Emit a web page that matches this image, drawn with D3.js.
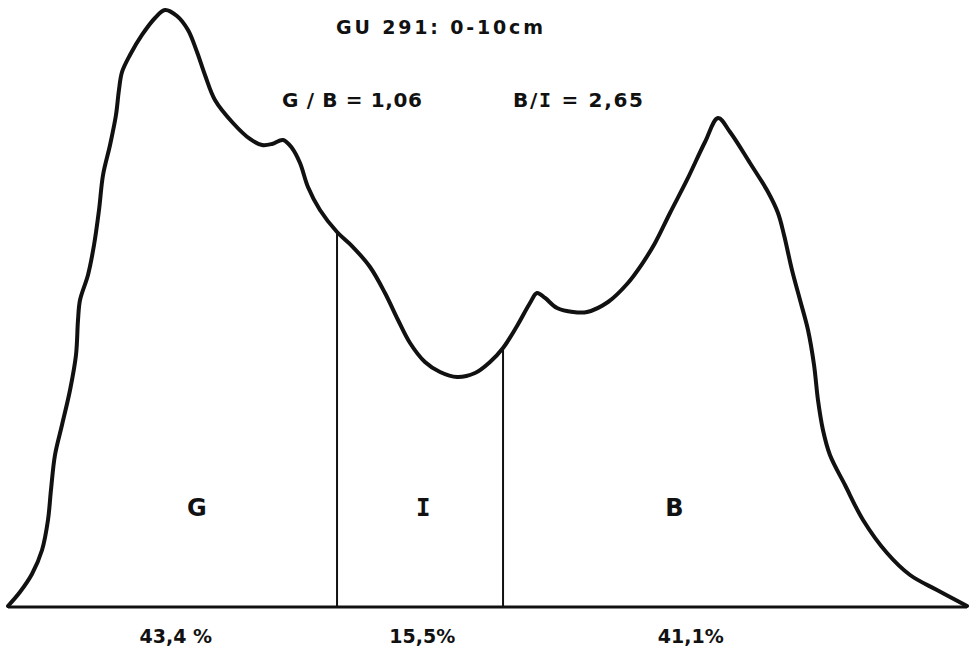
<!DOCTYPE html>
<html>
<head>
<meta charset="utf-8">
<script src="https://cdn.jsdelivr.net/npm/d3@7"></script>
<style>
  html, body { margin: 0; padding: 0; background: #fff; }
  svg { display: block; }
  text { font-family: "DejaVu Sans", sans-serif; font-weight: bold; fill: #111; }
  .serifI { font-family: "DejaVu Sans Mono", monospace; }
</style>
</head>
<body>
<svg id="chart" width="969" height="653"></svg>
<script>
// densitogram: distance along strip (0-100) vs. density (0-100, peak = 100)
var distance = [0, 1.25, 2.50, 3.55, 4.17, 4.48, 4.90, 5.63, 6.47, 7.09, 7.30, 7.51, 8.34, 8.97, 9.49, 9.91, 10.64, 11.26,
  11.57, 11.89, 12.72, 13.97, 15.33, 16.37, 17.62, 18.77, 19.71, 20.54, 21.58, 23.46, 25.23, 26.49, 27.53, 28.68, 29.61,
  30.45, 31.28, 32.53, 34.31, 35.87, 37.75, 39.31, 40.67, 41.92, 43.48, 45.05, 46.82, 48.70, 50.26, 51.62, 53.08, 54.43,
  55.16, 56.00, 57.25, 58.92, 60.38, 62.57, 64.55, 66.11, 67.47, 69.03, 70.80, 72.68, 74.04, 75.29, 77.37, 79.25, 80.29,
  80.92, 81.75, 82.59, 83.42, 84.05, 84.46, 84.98, 85.71, 87.28, 89.16, 91.66, 94.06, 96.87, 100];
var density = [0, 2.35, 5.37, 9.40, 14.43, 19.46, 25.34, 30.37, 36.24, 42.11, 47.99, 51.34, 55.54, 60.57, 66.44, 72.32, 77.35, 82.38,
  86.58, 89.60, 92.45, 95.81, 98.66, 100, 98.99, 96.64, 92.95, 89.09, 84.90, 81.04, 78.36, 77.35, 77.52, 78.19, 76.85,
  74.33, 70.30, 66.44, 62.75, 60.40, 56.88, 52.52, 47.99, 44.13, 40.94, 39.26, 38.42, 39.09, 40.94, 43.29, 46.98, 50.84,
  52.52, 51.68, 50.00, 49.33, 49.33, 51.01, 54.03, 57.38, 60.91, 65.94, 71.48, 77.85, 81.88, 79.53, 74.33, 69.46, 65.94,
  62.25, 56.38, 51.34, 46.31, 40.44, 34.56, 29.53, 25.34, 20.30, 14.43, 8.89, 5.20, 2.68, 0];

// fractions G | I | B and their limits
var fractions = ["G", "I", "B"];
var fractionCenters = [19.7, 43.3, 69.5];
var percentLabels = ["43,4 %", "15,5%", "41,1%"];
var percentCenters = [17.5, 43.2, 71.2];
var limits = [34.31, 51.62];

var title = "GU 291:  0-10cm";

var width = 969, height = 653;
var svg = d3.select("#chart");

var x = d3.scaleLinear().domain([0, 100]).range([8, 967]);
var y = d3.scaleLinear().domain([0, 100]).range([606, 10]);

var pts = distance.map((d, i) => [d, density[i]]);

// density at a given distance (linear between traced points)
function densityAt(v) {
  for (var i = 1; i < pts.length; i++) {
    if (pts[i][0] >= v && pts[i - 1][0] <= v) {
      var t = (v - pts[i - 1][0]) / (pts[i][0] - pts[i - 1][0]);
      return pts[i - 1][1] + t * (pts[i][1] - pts[i - 1][1]);
    }
  }
  return 0;
}

// baseline
svg.append("line")
  .attr("x1", x(0)).attr("x2", x(100))
  .attr("y1", y(0) + 1).attr("y2", y(0) + 1)
  .attr("stroke", "#111").attr("stroke-width", 3);

// fraction limits
svg.selectAll("line.limit")
  .data(limits)
  .join("line")
    .attr("class", "limit")
    .attr("x1", d => x(d)).attr("x2", d => x(d))
    .attr("y1", d => y(densityAt(d)))
    .attr("y2", y(0) + 1)
    .attr("stroke", "#111").attr("stroke-width", 2);

// curve
var line = d3.line()
  .x(d => x(d[0]))
  .y(d => y(d[1]))
  .curve(d3.curveCatmullRom.alpha(0.5));

svg.append("path")
  .attr("d", line(pts))
  .attr("fill", "none")
  .attr("stroke", "#111")
  .attr("stroke-width", 4)
  .attr("stroke-linejoin", "round")
  .attr("stroke-linecap", "round");

// texts
svg.append("text")
  .attr("x", 336).attr("y", 34)
  .attr("font-size", 19)
  .attr("textLength", 207).attr("lengthAdjust", "spacing")
  .text(title);

svg.append("text")
  .attr("x", 282).attr("y", 107)
  .attr("font-size", 20)
  .attr("textLength", 140).attr("lengthAdjust", "spacing")
  .text("G / B = 1,06");

var bi = svg.append("text")
  .attr("x", 513).attr("y", 107)
  .attr("font-size", 20)
  .attr("textLength", 130).attr("lengthAdjust", "spacing");
bi.append("tspan").text("B/");
bi.append("tspan").attr("class", "serifI").text("I");
bi.append("tspan").text(" = 2,65");

svg.selectAll("text.frac")
  .data(fractions)
  .join("text")
    .attr("class", d => d == "I" ? "frac serifI" : "frac")
    .attr("x", (d, i) => x(fractionCenters[i]))
    .attr("y", 516)
    .attr("text-anchor", "middle")
    .attr("font-size", 24)
    .text(d => d);

svg.selectAll("text.pct")
  .data(percentLabels)
  .join("text")
    .attr("class", "pct")
    .attr("x", (d, i) => x(percentCenters[i]))
    .attr("y", 643)
    .attr("text-anchor", "middle")
    .attr("font-size", 19)
    .text(d => d);
</script>
</body>
</html>
